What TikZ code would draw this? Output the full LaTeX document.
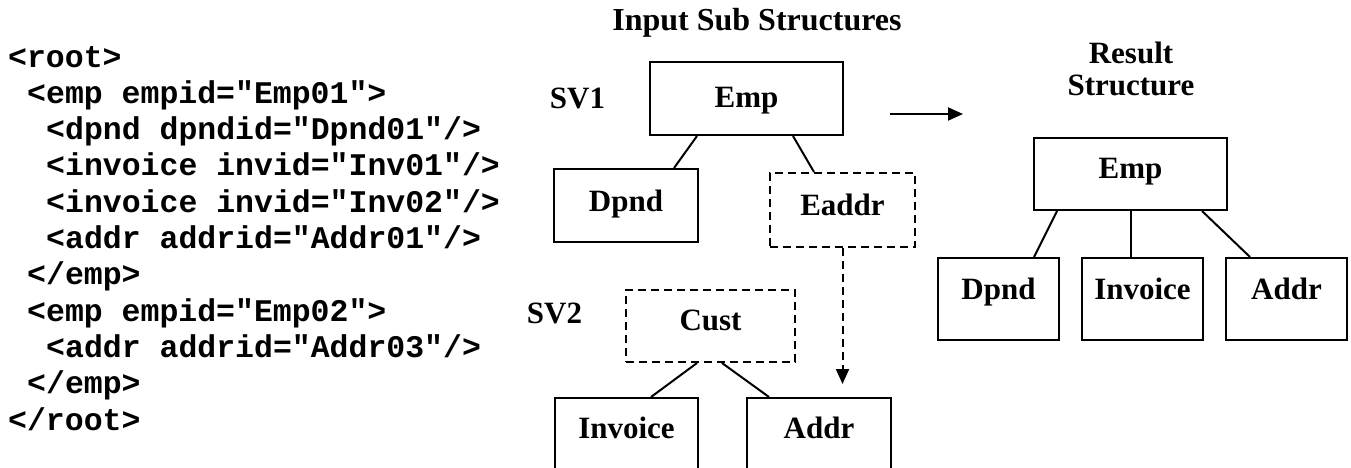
\documentclass[tikz,border=0pt]{standalone}
\usepackage{fontspec}
\setmainfont{Liberation Serif}
\newfontfamily\codefont{Liberation Mono}
\usetikzlibrary{arrows.meta}
\begin{document}
\begin{tikzpicture}[x=1pt,y=-1pt,
  lbl/.style={font=\fontsize{31}{36}\selectfont\bfseries, inner sep=0pt, anchor=base},
  code/.style={font=\fontsize{31.5}{36}\selectfont\codefont\bfseries, inner sep=0pt, anchor=base west},
  box/.style={draw, line width=2pt, inner sep=0pt, font=\fontsize{31}{36}\selectfont\bfseries, text height=22pt, text depth=14pt},
  dbox/.style={box, dash pattern=on 8pt off 5pt},
  conn/.style={line width=2pt},
  arr/.style={line width=2pt, -{Triangle[length=15pt,width=13pt]}}
]
\clip (0,0) rectangle (1351,467);
\fill[white] (0,0) rectangle (1351,467);
% code
\node[code] (c1) at (8,67) {<root>};
\node[code] (c2) at (27,103.3) {<emp empid="Emp01">};
\node[code] (c3) at (46,139.6) {<dpnd dpndid="Dpnd01"/>};
\node[code] (c4) at (46,175.9) {<invoice invid="Inv01"/>};
\node[code] (c5) at (46,212.2) {<invoice invid="Inv02"/>};
\node[code] (c6) at (46,248.5) {<addr addrid="Addr01"/>};
\node[code] (c7) at (27,284.8) {</emp>};
\node[code] (c8) at (27,321.1) {<emp empid="Emp02">};
\node[code] (c9) at (46,357.4) {<addr addrid="Addr03"/>};
\node[code] (c10) at (27,393.7) {</emp>};
\node[code] (c11) at (8,430) {</root>};
% labels
\node[lbl, font=\fontsize{32}{36}\selectfont\bfseries] (title) at (757,30) {Input Sub Structures};
\node[lbl] (sv1) at (577.5,108) {SV1};
\node[lbl] (sv2) at (554.5,323) {SV2};
\node[lbl] (res1) at (1131,63) {Result};
\node[lbl] (res2) at (1131,95) {Structure};
% input sub structures
\node[box, minimum width=193pt, minimum height=73pt, text depth=5pt] (emp1) at (746.5,98.5) {Emp};
\node[box, minimum width=144pt, minimum height=73pt, text depth=11pt] (dpnd1) at (626,205.5) {Dpnd};
\node[dbox, minimum width=145pt, minimum height=74pt, text depth=12pt] (eaddr) at (842.5,210) {Eaddr};
\node[dbox, minimum width=169pt, minimum height=72pt, text depth=14pt] (cust) at (710.5,326) {Cust};
\node[box, minimum width=143pt, minimum height=80pt, text depth=22pt] (inv2) at (626.5,438) {Invoice};
\node[box, minimum width=144pt, minimum height=80pt, text depth=22pt] (addr2) at (819,438) {Addr};
% result structure
\node[box, minimum width=193pt, minimum height=72pt, text depth=14pt] (emp3) at (1130.5,174) {Emp};
\node[box, minimum width=121pt, minimum height=82pt, text depth=22pt] (dpnd3) at (998.5,299) {Dpnd};
\node[box, minimum width=121pt, minimum height=82pt, text depth=22pt] (inv3) at (1142.5,299) {Invoice};
\node[box, minimum width=121pt, minimum height=82pt, text depth=22pt] (addr3) at (1286.5,299) {Addr};
% connectors
\draw[conn] ([xshift=48pt]emp1.south west) -- ([xshift=121pt]dpnd1.north west);
\draw[conn] ([xshift=144pt]emp1.south west) -- ([xshift=45pt]eaddr.north west);
\draw[conn] ([xshift=72pt]cust.south west) -- ([xshift=97pt]inv2.north west);
\draw[conn] ([xshift=97pt]cust.south west) -- ([xshift=23pt]addr2.north west);
\draw[arr, dash pattern=on 8pt off 5pt, shorten >=13pt] (eaddr.south) -- (eaddr.south |- addr2.north);
\draw[conn] ([xshift=24pt]emp3.south west) -- ([xshift=97pt]dpnd3.north west);
\draw[conn] (emp3.south) -- (emp3.south |- inv3.north);
\draw[conn] ([xshift=169pt]emp3.south west) -- ([xshift=25pt]addr3.north west);
\coordinate (a1) at (890,114);
\coordinate (a2) at (963,114);
\draw[arr] (a1) -- (a2);
\end{tikzpicture}
\end{document}
